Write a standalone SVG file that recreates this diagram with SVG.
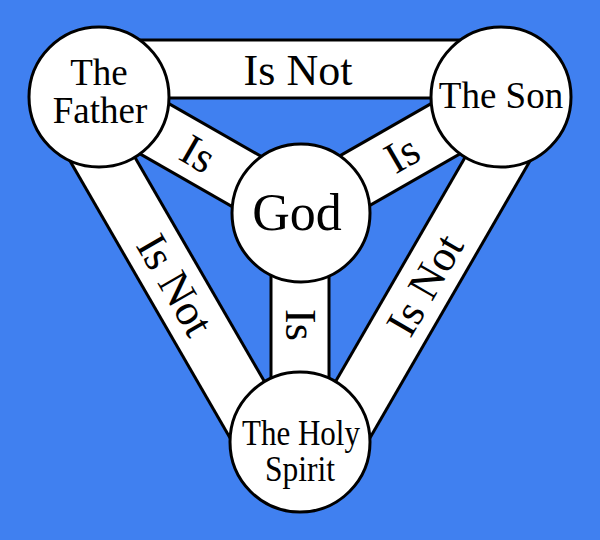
<svg xmlns="http://www.w3.org/2000/svg" width="600" height="540" viewBox="0 0 600 540">
  <style>
    .band-o { stroke: #000; stroke-width: 61; stroke-linecap: butt; fill: none; }
    .band-i { stroke: #fff; stroke-width: 55; stroke-linecap: butt; fill: none; }
    .node { fill: #fff; stroke: #000; stroke-width: 3; }
    text { font-family: 'Liberation Serif', 'Times New Roman', Times, serif; fill: #000; text-anchor: middle; }
  </style>
  <rect x="0" y="0" width="600" height="540" fill="#4080F0"/>
  <g id="connectors">
    <g id="edge-father-son">
      <line class="band-o" x1="99" y1="69" x2="501" y2="69"/>
      <line class="band-i" x1="99" y1="69" x2="501" y2="69"/>
    </g>
    <g id="edge-father-spirit">
      <line class="band-o" x1="74.4" y1="110.6" x2="274.4" y2="456.8"/>
      <line class="band-i" x1="74.4" y1="110.6" x2="274.4" y2="456.8"/>
    </g>
    <g id="edge-son-spirit">
      <line class="band-o" x1="525.6" y1="110.6" x2="325.6" y2="456.8"/>
      <line class="band-i" x1="525.6" y1="110.6" x2="325.6" y2="456.8"/>
    </g>
    <g id="edge-father-god">
      <line class="band-o" x1="99" y1="97" x2="300" y2="212"/>
      <line class="band-i" x1="99" y1="97" x2="300" y2="212"/>
    </g>
    <g id="edge-son-god">
      <line class="band-o" x1="501" y1="97" x2="300" y2="212"/>
      <line class="band-i" x1="501" y1="97" x2="300" y2="212"/>
    </g>
    <g id="edge-god-spirit">
      <line class="band-o" x1="300" y1="212" x2="300" y2="442"/>
      <line class="band-i" x1="300" y1="212" x2="300" y2="442"/>
    </g>
  </g>
  <g id="edge-labels" font-family="Liberation Serif, serif" font-size="44">
    <text x="298" y="85" font-family="Liberation Serif, serif" font-size="44">Is Not</text>
    <text transform="translate(175 285) rotate(60)" x="0" y="14.5" font-family="Liberation Serif, serif" font-size="44">Is Not</text>
    <text transform="translate(425 285) rotate(-60)" x="0" y="14.5" font-family="Liberation Serif, serif" font-size="44">Is Not</text>
    <text transform="translate(198 154) rotate(30)" x="0" y="14.5" font-family="Liberation Serif, serif" font-size="44">Is</text>
    <text transform="translate(402 154) rotate(-30)" x="0" y="14.5" font-family="Liberation Serif, serif" font-size="44">Is</text>
    <text transform="translate(300 325) rotate(90)" x="0" y="14.5" font-family="Liberation Serif, serif" font-size="44">Is</text>
  </g>
  <g id="node-father">
    <circle class="node" cx="99" cy="97" r="70"/>
    <text x="99" y="85" font-family="Liberation Serif, serif" font-size="37">The</text>
    <text x="100" y="123" font-family="Liberation Serif, serif" font-size="37">Father</text>
  </g>
  <g id="node-son">
    <circle class="node" cx="501" cy="97" r="70"/>
    <text x="501" y="108" font-family="Liberation Serif, serif" font-size="37">The Son</text>
  </g>
  <g id="node-god">
    <circle class="node" cx="301" cy="213" r="69"/>
    <text x="297" y="230" font-family="Liberation Serif, serif" font-size="52">God</text>
  </g>
  <g id="node-spirit">
    <circle class="node" cx="300" cy="442" r="70"/>
    <text x="301" y="445" font-family="Liberation Serif, serif" font-size="35" textLength="118" lengthAdjust="spacingAndGlyphs">The Holy</text>
    <text x="300" y="481" font-family="Liberation Serif, serif" font-size="35" textLength="70" lengthAdjust="spacingAndGlyphs">Spirit</text>
  </g>
</svg>
